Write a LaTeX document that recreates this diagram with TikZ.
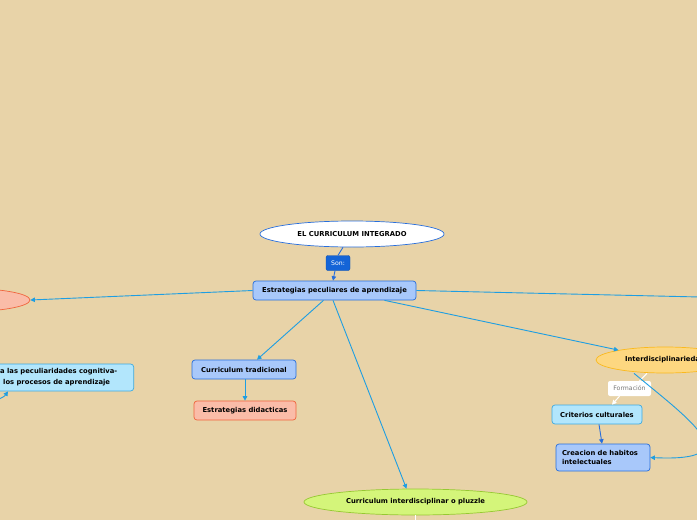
\documentclass[tikz,border=0pt]{standalone}
\usepackage{fontspec}
\setmainfont{DejaVu Sans}
\usetikzlibrary{shapes.geometric,arrows.meta,calc}
\definecolor{bg}{RGB}{232,211,168}
\definecolor{conncol}{RGB}{30,158,226}
\definecolor{lbluefill}{RGB}{168,200,250}
\definecolor{dblue}{RGB}{40,110,220}
\definecolor{salfill}{RGB}{250,188,168}
\definecolor{salline}{RGB}{240,100,60}
\definecolor{cyfill}{RGB}{178,230,252}
\definecolor{cyline}{RGB}{60,170,225}
\definecolor{grfill}{RGB}{212,245,122}
\definecolor{grline}{RGB}{150,200,50}
\definecolor{yefill}{RGB}{253,215,128}
\definecolor{yeline}{RGB}{250,185,30}
\definecolor{sonblue}{RGB}{20,100,215}
\definecolor{formtext}{RGB}{120,120,120}
\tikzset{
  txt/.style={font=\bfseries\fontsize{6.8}{9}\selectfont, text=black},
  boxbase/.style={txt, rounded corners=3pt, line width=0.7pt, inner sep=0pt},
  bluebox/.style={boxbase, draw=dblue, fill=lbluefill},
  salbox/.style={boxbase, draw=salline, fill=salfill},
  cybox/.style={boxbase, draw=cyline, fill=cyfill},
  ell/.style={txt, ellipse, line width=0.7pt, inner sep=0pt},
  conn/.style={draw=conncol, line width=0.9pt, -{Triangle[length=4.5pt,width=4.5pt]}},
  plainconn/.style={draw=conncol, line width=0.9pt},
  whiteconn/.style={draw=white, line width=1pt},
}
\begin{document}
\begin{tikzpicture}[x=1pt,y=-1pt]
\useasboundingbox (0,0) rectangle (697,520);
\clip (0,0) rectangle (697,520);
\fill[bg] (0,0) rectangle (697,520);

% nodes
\node[ell, draw=dblue, fill=white, minimum width=184pt, minimum height=26pt] (root) at (352,234) {EL CURRICULUM INTEGRADO};
\node[rounded corners=2pt, fill=sonblue, draw=sonblue!80!black, line width=0.4pt, text=white, inner sep=0pt, minimum width=24pt, minimum height=15pt, font=\fontsize{6.2}{7}\selectfont] (son) at (338,263) {Son:};
\node[bluebox, minimum width=163pt, minimum height=19pt] (est) at (334.5,290.5) {Estrategias peculiares de aprendizaje};
\node[ell, draw=salline, fill=salfill, minimum width=140pt, minimum height=24pt] (leftell) at (-40,300) {};
\node[cybox, minimum width=200pt, minimum height=27pt, anchor=east] (cog) at (134,377.5) {};
\node[txt, anchor=west, inner sep=0pt] (cog1) at (0,372) {a las peculiaridades cognitiva-};
\node[txt, anchor=west, inner sep=0pt] (cog2) at (3,383) {los procesos de aprendizaje};
\node[bluebox, minimum width=104pt, minimum height=19pt] (trad) at (244,369.5) {Curriculum tradicional};
\node[salbox, minimum width=102pt, minimum height=19pt] (did) at (245,410.5) {Estrategias didacticas};
\node[ell, draw=grline, fill=grfill, minimum width=223pt, minimum height=26pt] (puz) at (415.5,502) {Curriculum interdisciplinar o pluzzle};
\node[ell, draw=yeline, fill=yefill, minimum width=138pt, minimum height=26pt] (inter) at (665,360) {Interdisciplinariedad};
\node[rounded corners=2pt, fill=white, text=formtext, inner sep=0pt, minimum width=43pt, minimum height=15pt, font=\fontsize{6.2}{7}\selectfont] (form) at (629.5,388.5) {Formación};
\node[cybox, minimum width=90pt, minimum height=19pt] (crit) at (597,414.5) {Criterios culturales};
\node[bluebox, minimum width=94pt, minimum height=27pt, align=left, text width=82pt] (crea) at (603,457.5) {Creacion de habitos\\intelectuales};

% coordinates for free ends
\coordinate (rightend) at (700,297);
\coordinate (cogstart) at (-4,400);
\coordinate (puzend) at (415.5,522);

% connectors
\draw[plainconn, draw=dblue] ([xshift=-9pt]root.south) -- (son.north);
\draw[conn, draw=dblue] ([xshift=-3pt]son.south) -- ([xshift=-1.5pt]est.north);
\draw[conn] (est.west) -- (leftell.east);
\draw[plainconn] (est.east) -- (rightend);
\draw[conn] (cogstart) to[bend right=20] ([xshift=-126pt]cog.south east);
\draw[conn] ([xshift=-11pt]est.south) -- ([xshift=13pt]trad.north);
\draw[conn] ([xshift=1pt]trad.south) -- (did.north);
\draw[conn] ([xshift=-1.5pt]est.south) -- ([xshift=-9pt]puz.north);
\draw[whiteconn] (puz.south) -- (puzend);
\draw[conn] ([xshift=50pt]est.south) -- (inter);
\draw[whiteconn] ([xshift=-18pt]inter.south) -- ([xshift=10pt]form.north);
\draw[whiteconn, -{Triangle[length=4.5pt,width=4.5pt]}] ([xshift=-10pt]form.south) -- ([xshift=15pt]crit.north);
\draw[conn, draw=dblue] ([xshift=2pt]crit.south) -- ([xshift=-1pt]crea.north);
\draw[conn] ([xshift=-31pt]inter.south) .. controls (690,420) and (750,462) .. (crea.east);
\end{tikzpicture}
\end{document}
